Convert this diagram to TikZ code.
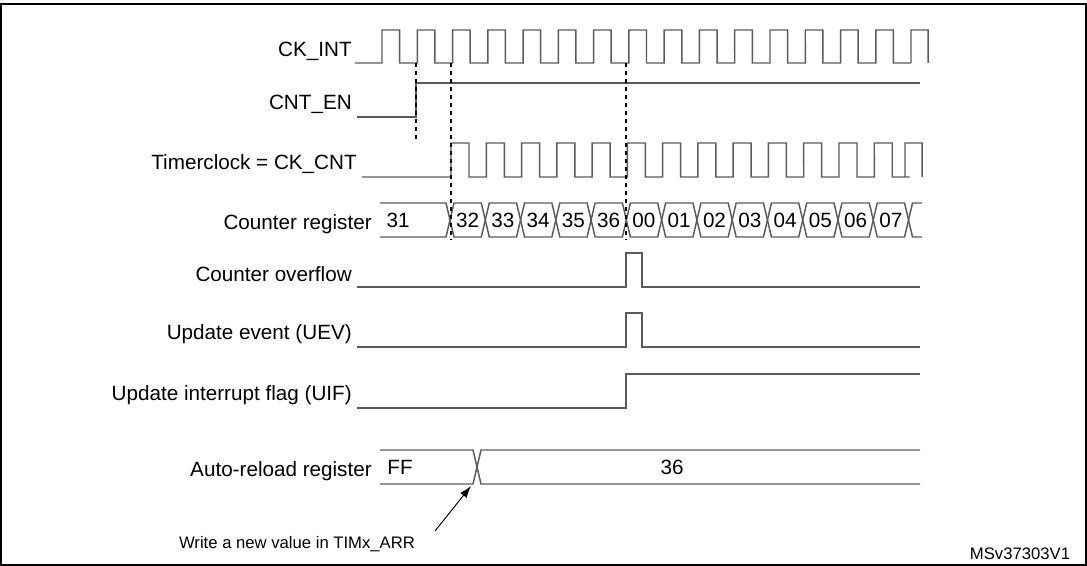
\documentclass[tikz,border=0pt]{standalone}
\usepackage{fontspec}
\setmainfont{Liberation Sans}
\usetikzlibrary{arrows.meta}
\definecolor{sig}{HTML}{5A5A5A}
\tikzset{
  wave/.style = {sig, line width=1.1pt},
  guide/.style = {black, dashed, line width=0.8pt},
  lbl/.style = {anchor=east, inner sep=0pt, font=\fontsize{15.5}{18}\selectfont},
  val/.style = {inner sep=0pt, font=\fontsize{15.5}{18}\selectfont},
  note/.style = {inner sep=0pt, font=\fontsize{12.5}{15}\selectfont},
}
\begin{document}
\begin{tikzpicture}[x=0.75pt, y=-0.75pt]
		\useasboundingbox (0,0) rectangle (1087,566);
		\draw[black, line width=1.2pt] (1,4) rectangle (1086,565);
		%
		\node[lbl] (ckint) at (352,51) {CK\_INT};
		\node[lbl] (cnten) at (352,104) {CNT\_EN};
		\node[lbl] (tclk) at (357,164) {Timerclock = CK\_CNT};
		\node[lbl] (cnt) at (372,224) {Counter register};
		\node[lbl] (ovf) at (352,274) {Counter overflow};
		\node[lbl] (uev) at (352,334) {Update event (UEV)};
		\node[lbl] (uif) at (352,395) {Update interrupt flag (UIF)};
		\node[lbl] (arr) at (372,471) {Auto-reload register};
		%
		% CK_INT
		\draw[wave] (355,63) -- (382,63)
		  \foreach \k in {0,...,14} { -- ({382+35.27*\k},30) -- ({399.6+35.27*\k},30) -- ({399.6+35.27*\k},63) -- ({417.3+35.27*\k},63) }
		  -- (911,63) -- (911,30) -- (928,30) -- (928,63);
		% CNT_EN
		\draw[wave] (357,117) -- (416,117) -- (416,83) -- (920,83);
		% CK_CNT
		\draw[wave] (362,177) -- (451,177)
		  \foreach \k in {0,...,12} { -- ({451+35.27*\k},143) -- ({469+35.27*\k},143) -- ({469+35.27*\k},177) -- ({486.3+35.27*\k},177) }
		  -- (905,177) -- (905,143) -- (922,143) -- (922,177);
		% counter register
		\draw[wave] (380,203) -- (446,203) -- (450,220) -- (446,237) -- (380,237);
		\node[val] (c31) at (398,220) {31};
		\foreach \v [count=\k from 0] in {32,33,34,35,36,00,01,02,03,04,05,06,07} {
		  \draw[wave] ({450+35.27*\k},220) -- ({454+35.27*\k},203) -- ({481.3+35.27*\k},203) -- ({485.3+35.27*\k},220)
		    -- ({481.3+35.27*\k},237) -- ({454+35.27*\k},237) -- cycle;
		  \node[val] (c\v) at ({467.6+35.27*\k},220) {\v};
		}
		\draw[wave] (922,203) -- (912.5,203) -- (908.5,220) -- (912.5,237) -- (922,237);
		% overflow, UEV, UIF
		\draw[wave] (357,287) -- (626,287) -- (626,253) -- (642,253) -- (642,287) -- (920,287);
		\draw[wave] (357,347) -- (626,347) -- (626,313) -- (642,313) -- (642,347) -- (920,347);
		\draw[wave] (357,408) -- (626,408) -- (626,374) -- (920,374);
		% auto-reload register
		\draw[wave] (380,450) -- (473,450) -- (477,467) -- (473,484) -- (380,484);
		\draw[wave] (920,450) -- (481,450) -- (477,467) -- (481,484) -- (920,484);
		\node[val] (ff) at (400,467) {FF};
		\node[val] (r36) at (672,467) {36};
		%
		\draw[guide] (416,63) -- (416,139);
		\draw[guide] (451,63) -- (451,240);
		\draw[guide] (626,63) -- (626,240);
		%
		\node[note] (wr) at (297,544) {Write a new value in TIMx\_ARR};
		\coordinate (wrtip) at (471,486);
		\draw[black, line width=0.7pt, -{Latex[length=9pt,width=6pt]}] (435,531) -- (wrtip);
		\node[note] (ver) at (1020,554) {MSv37303V1};
	\end{tikzpicture}
\end{document}
